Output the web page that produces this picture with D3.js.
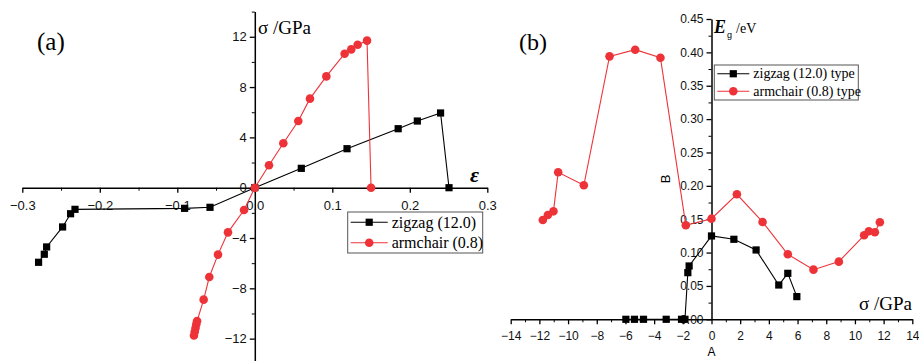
<!DOCTYPE html>
<html>
<head>
<meta charset="utf-8">
<script src="https://cdn.jsdelivr.net/npm/d3@7"></script>
<style>
  body { margin: 0; background: #fff; }
  .tick text { font-family: "Liberation Sans", Arial, sans-serif; }
</style>
</head>
<body>
<svg id="chart" width="919" height="361"></svg>
<script>
// Panel (a): stress vs strain
var zigStrain = [-0.279, -0.2716, -0.2686, -0.248, -0.2377, -0.232, -0.0906, -0.0578, 0, 0.06, 0.119, 0.185, 0.2097, 0.2397, 0.2506];
var zigStress = [-5.93, -5.29, -4.71, -3.12, -2.07, -1.72, -1.64, -1.56, 0, 1.54, 3.1, 4.69, 5.3, 5.94, 0];
var armStrain = [-0.0785, -0.0775, -0.0765, -0.0755, -0.0745, -0.066, -0.0587, -0.0475, -0.0346, -0.0139, 0, 0.0183, 0.0368, 0.0561, 0.0712, 0.0923, 0.1159, 0.1245, 0.1327, 0.1448, 0.15];
var armStress = [-11.75, -11.45, -11.15, -10.85, -10.6, -8.9, -7.1, -5.32, -3.55, -1.77, 0, 1.78, 3.53, 5.3, 7.08, 8.85, 10.65, 11.0, 11.37, 11.69, 0];

// Panel (b): band gap vs stress
var zigSigma = [-5.97, -5.37, -4.74, -3.16, -2.09, -1.85, -1.65, -1.56, 0, 1.56, 3.11, 4.69, 5.32, 5.95];
var zigGap = [0, 0, 0, 0, 0, 0, 0.0699, 0.0799, 0.1249, 0.1199, 0.1039, 0.0514, 0.0689, 0.034];
var armSigma = [-11.76, -11.41, -11.02, -10.69, -8.9, -7.11, -5.32, -3.56, -1.79, 0, 1.77, 3.56, 5.32, 7.11, 8.88, 10.64, 10.97, 11.39, 11.74];
var armGap = [0.1489, 0.1563, 0.1618, 0.2203, 0.2008, 0.394, 0.404, 0.392, 0.1409, 0.1508, 0.1873, 0.1459, 0.0974, 0.0744, 0.0864, 0.1259, 0.1319, 0.1304, 0.1454];

var strainTicks = [-0.3, -0.2, -0.1, 0, 0.1, 0.2, 0.3];
var stressTicks = [-12, -8, -4, 0, 4, 8, 12];
var sigmaTicks = [-14, -12, -10, -8, -6, -4, -2, 0, 2, 4, 6, 8, 10, 12, 14];
var gapTicks = [0, 0.05, 0.1, 0.15, 0.2, 0.25, 0.3, 0.35, 0.4, 0.45];

var legendA = ['zigzag (12.0)', 'armchair (0.8)'];
var legendB = ['zigzag (12.0) type', 'armchair (0.8) type'];

var red = '#ee3338';
var serif = '"Liberation Serif", "Times New Roman", serif';
var sans = '"Liberation Sans", Arial, sans-serif';
var svg = d3.select('#chart');

function zip(xs, ys) {
    return xs.map((x, i) => [x, ys[i]]);
}

// Draw a series: line + markers
function drawSeries(g, data, x, y, color, shape) {
    var line = d3.line().x((d) => x(d[0])).y((d) => y(d[1]));
    g.append('path')
        .datum(data)
        .attr('fill', 'none')
        .attr('stroke', color)
        .attr('stroke-width', 1.1)
        .attr('d', line);
    if (shape === 'square') {
        g.selectAll(null).data(data).enter().append('rect')
            .attr('x', (d) => x(d[0]) - 3.6)
            .attr('y', (d) => y(d[1]) - 3.6)
            .attr('width', 7.2)
            .attr('height', 7.2)
            .attr('fill', color);
    } else {
        g.selectAll(null).data(data).enter().append('circle')
            .attr('cx', (d) => x(d[0]))
            .attr('cy', (d) => y(d[1]))
            .attr('r', 4.3)
            .attr('fill', color);
    }
}

function styleAxis(g, size) {
    g.select('.domain').attr('stroke-width', 1.5);
    g.selectAll('.tick line').attr('stroke-width', 1.3);
    g.selectAll('.tick text').attr('font-size', size).attr('fill', '#111');
}

function drawLegend(g, x0, y0, w, h, labels, size, sample) {
    g.append('rect')
        .attr('x', x0).attr('y', y0).attr('width', w).attr('height', h)
        .attr('fill', '#fff').attr('stroke', '#555').attr('stroke-width', 1);
    var rowH = h / 2;
    labels.forEach((lab, i) => {
        var cy = y0 + rowH * (i + 0.5);
        var color = i === 0 ? '#000' : red;
        g.append('line')
            .attr('x1', x0 + 3).attr('x2', x0 + 3 + sample)
            .attr('y1', cy).attr('y2', cy)
            .attr('stroke', color).attr('stroke-width', 1.1);
        if (i === 0) {
            g.append('rect').attr('x', x0 + 3 + sample / 2 - 3.6).attr('y', cy - 3.6)
                .attr('width', 7.2).attr('height', 7.2).attr('fill', color);
        } else {
            g.append('circle').attr('cx', x0 + 3 + sample / 2).attr('cy', cy)
                .attr('r', 4.3).attr('fill', color);
        }
        g.append('text')
            .style('font-family', serif)
            .attr('x', x0 + sample + 7)
            .attr('y', cy + size * 0.33)
            .attr('font-size', size)
            .text(lab);
    });
}

// ---------- Panel (a) ----------
var xA = d3.scaleLinear().domain([-0.3, 0.3]).range([22.3, 487.3]);
var yA = d3.scaleLinear().domain([-14, 14]).range([363.8, 11.6]);
var gA = svg.append('g');

gA.append('g')
    .attr('transform', `translate(0, ${yA(0)})`)
    .call(d3.axisBottom(xA).tickValues([-0.25, -0.15, -0.05, 0.05, 0.15, 0.25]).tickSize(3).tickFormat(''))
    .call((g) => g.select('.domain').remove());
var axA = gA.append('g')
    .attr('transform', `translate(0, ${yA(0)})`)
    .call(d3.axisBottom(xA).tickValues(strainTicks).tickSize(5).tickSizeOuter(0).tickFormat(d3.format('.1f')));
styleAxis(axA, 13);
axA.selectAll('.tick text').attr('dy', '1.1em');

gA.append('g')
    .attr('transform', `translate(${xA(0)}, 0)`)
    .call(d3.axisLeft(yA).tickValues([-10, -6, -2, 2, 6, 10, 14]).tickSize(3).tickFormat(''))
    .call((g) => g.select('.domain').remove());
var ayA = gA.append('g')
    .attr('transform', `translate(${xA(0)}, 0)`)
    .call(d3.axisLeft(yA).tickValues(stressTicks).tickSize(5).tickSizeOuter(0).tickFormat(d3.format('d')));
styleAxis(ayA, 13);

drawSeries(gA, zip(zigStrain, zigStress), xA, yA, '#000', 'square');
drawSeries(gA, zip(armStrain, armStress), xA, yA, red, 'circle');

gA.append('text').style('font-family', serif).attr('x', 37).attr('y', 50).attr('font-size', 25).text('(a)');
gA.append('text').style('font-family', serif).attr('x', 258).attr('y', 34).attr('font-size', 19).text('σ /GPa');
gA.append('text').style('font-family', serif).attr('x', 470).attr('y', 182)
    .attr('font-size', 22).attr('font-weight', 'bold').attr('font-style', 'italic').text('ε');

drawLegend(gA, 347.7, 212, 135, 41, legendA, 16, 37);

// ---------- Panel (b) ----------
var xB = d3.scaleLinear().domain([-14, 14]).range([510.7, 912.3]);
var yB = d3.scaleLinear().domain([0, 0.45]).range([319.3, 19]);
var gB = svg.append('g');

gB.append('g')
    .attr('transform', `translate(0, ${yB(0)})`)
    .call(d3.axisBottom(xB).tickValues(d3.range(-13, 14, 2)).tickSize(3).tickFormat(''))
    .call((g) => g.select('.domain').remove());
var axB = gB.append('g')
    .attr('transform', `translate(0, ${yB(0)})`)
    .call(d3.axisBottom(xB).tickValues(sigmaTicks).tickSize(5).tickSizeOuter(0).tickFormat(d3.format('d')));
styleAxis(axB, 12);
axB.selectAll('.tick text').attr('dy', '1.05em');

gB.append('g')
    .attr('transform', `translate(${xB(0)}, 0)`)
    .call(d3.axisLeft(yB).tickValues(d3.range(0.025, 0.45, 0.05)).tickSize(3).tickFormat(''))
    .call((g) => g.select('.domain').remove());
var ayB = gB.append('g')
    .attr('transform', `translate(${xB(0)}, 0)`)
    .call(d3.axisLeft(yB).tickValues(gapTicks).tickSize(5).tickSizeOuter(0).tickFormat(d3.format('.2f')));
styleAxis(ayB, 12);

drawSeries(gB, zip(armSigma, armGap), xB, yB, red, 'circle');
drawSeries(gB, zip(zigSigma, zigGap), xB, yB, '#000', 'square');

gB.append('text').style('font-family', serif).attr('x', 519).attr('y', 50).attr('font-size', 24).text('(b)');
gB.append('text').style('font-family', serif).attr('x', 859).attr('y', 310).attr('font-size', 19).text('σ /GPa');
var eg = gB.append('text').style('font-family', serif).attr('x', 714).attr('y', 33);
eg.append('tspan').attr('font-size', 18).attr('font-weight', 'bold').attr('font-style', 'italic').text('E');
eg.append('tspan').attr('font-size', 9).attr('dy', 5).attr('dx', 1).style('font-family', sans).text('g');
eg.append('tspan').attr('font-size', 14).attr('dy', -5).attr('dx', 4).text('/eV');

gB.append('text')
    .attr('transform', 'translate(670, 179) rotate(-90)')
    .attr('text-anchor', 'middle')
    .style('font-family', sans)
    .attr('font-size', 13)
    .text('B');
gB.append('text')
    .attr('x', xB(0)).attr('y', 356)
    .attr('text-anchor', 'middle')
    .style('font-family', sans)
    .attr('font-size', 12)
    .text('A');

drawLegend(gB, 714.3, 65, 144, 35, legendB, 14, 32);
</script>
</body>
</html>
